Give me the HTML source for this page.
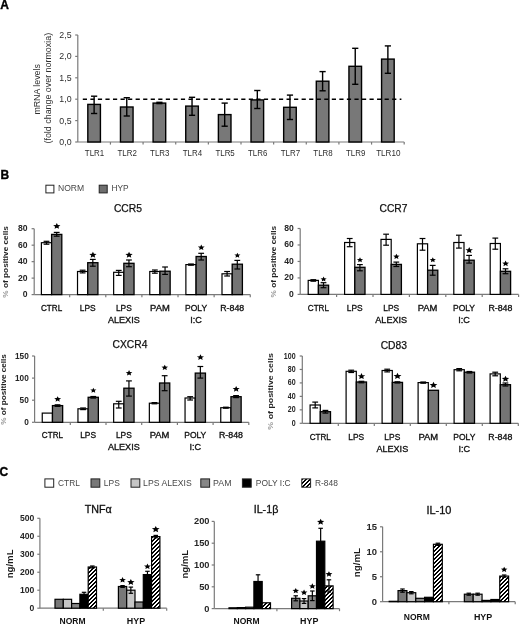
<!DOCTYPE html>
<html><head><meta charset="utf-8"><style>
html,body{margin:0;padding:0;background:#fff;}
body{width:520px;height:625px;overflow:hidden;}
svg{display:block;will-change:transform;filter:blur(0.3px);font-family:"Liberation Sans", sans-serif;}
</style></head><body>
<svg width="520" height="625" viewBox="0 0 520 625">
<defs><pattern id="hatch" patternUnits="userSpaceOnUse" x="0" y="0" width="4" height="4"><rect width="4" height="4" fill="#fff"/><rect x="0" y="0" width="1" height="1" fill="#000"/><rect x="1" y="0" width="1" height="1" fill="#000"/><rect x="0" y="1" width="1" height="1" fill="#000"/><rect x="3" y="1" width="1" height="1" fill="#000"/><rect x="2" y="2" width="1" height="1" fill="#000"/><rect x="3" y="2" width="1" height="1" fill="#000"/><rect x="1" y="3" width="1" height="1" fill="#000"/><rect x="2" y="3" width="1" height="1" fill="#000"/></pattern></defs>
<rect width="520" height="625" fill="#fff"/>
<text x="0.30" y="8.60" font-size="12" text-anchor="start" font-weight="bold" fill="#000" stroke="#000" stroke-width="0.35">A</text>
<line x1="77.80" y1="35.00" x2="77.80" y2="142.00" stroke="#7a7a7a" stroke-width="1.2" />
<line x1="75.20" y1="142.00" x2="77.80" y2="142.00" stroke="#7a7a7a" stroke-width="1.2" />
<text x="71.60" y="145.00" font-size="8.8" text-anchor="end" font-weight="normal" fill="#2e2e2e" >0,0</text>
<line x1="75.20" y1="120.60" x2="77.80" y2="120.60" stroke="#7a7a7a" stroke-width="1.2" />
<text x="71.60" y="123.60" font-size="8.8" text-anchor="end" font-weight="normal" fill="#2e2e2e" >0,5</text>
<line x1="75.20" y1="99.20" x2="77.80" y2="99.20" stroke="#7a7a7a" stroke-width="1.2" />
<text x="71.60" y="102.20" font-size="8.8" text-anchor="end" font-weight="normal" fill="#2e2e2e" >1,0</text>
<line x1="75.20" y1="77.80" x2="77.80" y2="77.80" stroke="#7a7a7a" stroke-width="1.2" />
<text x="71.60" y="80.80" font-size="8.8" text-anchor="end" font-weight="normal" fill="#2e2e2e" >1,5</text>
<line x1="75.20" y1="56.40" x2="77.80" y2="56.40" stroke="#7a7a7a" stroke-width="1.2" />
<text x="71.60" y="59.40" font-size="8.8" text-anchor="end" font-weight="normal" fill="#2e2e2e" >2,0</text>
<line x1="75.20" y1="35.00" x2="77.80" y2="35.00" stroke="#7a7a7a" stroke-width="1.2" />
<text x="71.60" y="38.00" font-size="8.8" text-anchor="end" font-weight="normal" fill="#2e2e2e" >2,5</text>
<line x1="77.80" y1="142.00" x2="404.20" y2="142.00" stroke="#7a7a7a" stroke-width="1.2" />
<line x1="110.44" y1="142.00" x2="110.44" y2="144.60" stroke="#7a7a7a" stroke-width="1.2" />
<line x1="143.08" y1="142.00" x2="143.08" y2="144.60" stroke="#7a7a7a" stroke-width="1.2" />
<line x1="175.72" y1="142.00" x2="175.72" y2="144.60" stroke="#7a7a7a" stroke-width="1.2" />
<line x1="208.36" y1="142.00" x2="208.36" y2="144.60" stroke="#7a7a7a" stroke-width="1.2" />
<line x1="241.00" y1="142.00" x2="241.00" y2="144.60" stroke="#7a7a7a" stroke-width="1.2" />
<line x1="273.64" y1="142.00" x2="273.64" y2="144.60" stroke="#7a7a7a" stroke-width="1.2" />
<line x1="306.28" y1="142.00" x2="306.28" y2="144.60" stroke="#7a7a7a" stroke-width="1.2" />
<line x1="338.92" y1="142.00" x2="338.92" y2="144.60" stroke="#7a7a7a" stroke-width="1.2" />
<line x1="371.56" y1="142.00" x2="371.56" y2="144.60" stroke="#7a7a7a" stroke-width="1.2" />
<line x1="404.20" y1="142.00" x2="404.20" y2="144.60" stroke="#7a7a7a" stroke-width="1.2" />
<rect x="87.82" y="104.40" width="12.60" height="37.60" fill="#787878" stroke="#000" stroke-width="1.4"/>
<line x1="94.12" y1="96.20" x2="94.12" y2="113.50" stroke="#000" stroke-width="1.4" />
<line x1="91.02" y1="96.20" x2="97.22" y2="96.20" stroke="#000" stroke-width="1.4" />
<line x1="91.02" y1="113.50" x2="97.22" y2="113.50" stroke="#000" stroke-width="1.4" />
<text x="94.52" y="156.40" font-size="9.1" text-anchor="middle" font-weight="normal" fill="#2e2e2e"  textLength="19.40" lengthAdjust="spacingAndGlyphs">TLR1</text>
<rect x="120.46" y="107.00" width="12.60" height="35.00" fill="#787878" stroke="#000" stroke-width="1.4"/>
<line x1="126.76" y1="97.70" x2="126.76" y2="116.00" stroke="#000" stroke-width="1.4" />
<line x1="123.66" y1="97.70" x2="129.86" y2="97.70" stroke="#000" stroke-width="1.4" />
<line x1="123.66" y1="116.00" x2="129.86" y2="116.00" stroke="#000" stroke-width="1.4" />
<text x="127.16" y="156.40" font-size="9.1" text-anchor="middle" font-weight="normal" fill="#2e2e2e"  textLength="19.40" lengthAdjust="spacingAndGlyphs">TLR2</text>
<rect x="153.10" y="103.10" width="12.60" height="38.90" fill="#787878" stroke="#000" stroke-width="1.4"/>
<line x1="159.40" y1="102.30" x2="159.40" y2="103.60" stroke="#000" stroke-width="1.4" />
<line x1="156.30" y1="102.30" x2="162.50" y2="102.30" stroke="#000" stroke-width="1.4" />
<line x1="156.30" y1="103.60" x2="162.50" y2="103.60" stroke="#000" stroke-width="1.4" />
<text x="159.80" y="156.40" font-size="9.1" text-anchor="middle" font-weight="normal" fill="#2e2e2e"  textLength="19.40" lengthAdjust="spacingAndGlyphs">TLR3</text>
<rect x="185.74" y="106.10" width="12.60" height="35.90" fill="#787878" stroke="#000" stroke-width="1.4"/>
<line x1="192.04" y1="97.30" x2="192.04" y2="115.30" stroke="#000" stroke-width="1.4" />
<line x1="188.94" y1="97.30" x2="195.14" y2="97.30" stroke="#000" stroke-width="1.4" />
<line x1="188.94" y1="115.30" x2="195.14" y2="115.30" stroke="#000" stroke-width="1.4" />
<text x="192.44" y="156.40" font-size="9.1" text-anchor="middle" font-weight="normal" fill="#2e2e2e"  textLength="19.40" lengthAdjust="spacingAndGlyphs">TLR4</text>
<rect x="218.38" y="114.60" width="12.60" height="27.40" fill="#787878" stroke="#000" stroke-width="1.4"/>
<line x1="224.68" y1="103.10" x2="224.68" y2="126.20" stroke="#000" stroke-width="1.4" />
<line x1="221.58" y1="103.10" x2="227.78" y2="103.10" stroke="#000" stroke-width="1.4" />
<line x1="221.58" y1="126.20" x2="227.78" y2="126.20" stroke="#000" stroke-width="1.4" />
<text x="225.08" y="156.40" font-size="9.1" text-anchor="middle" font-weight="normal" fill="#2e2e2e"  textLength="19.40" lengthAdjust="spacingAndGlyphs">TLR5</text>
<rect x="251.02" y="99.90" width="12.60" height="42.10" fill="#787878" stroke="#000" stroke-width="1.4"/>
<line x1="257.32" y1="90.50" x2="257.32" y2="108.50" stroke="#000" stroke-width="1.4" />
<line x1="254.22" y1="90.50" x2="260.42" y2="90.50" stroke="#000" stroke-width="1.4" />
<line x1="254.22" y1="108.50" x2="260.42" y2="108.50" stroke="#000" stroke-width="1.4" />
<text x="257.72" y="156.40" font-size="9.1" text-anchor="middle" font-weight="normal" fill="#2e2e2e"  textLength="19.40" lengthAdjust="spacingAndGlyphs">TLR6</text>
<rect x="283.66" y="107.30" width="12.60" height="34.70" fill="#787878" stroke="#000" stroke-width="1.4"/>
<line x1="289.96" y1="95.10" x2="289.96" y2="119.50" stroke="#000" stroke-width="1.4" />
<line x1="286.86" y1="95.10" x2="293.06" y2="95.10" stroke="#000" stroke-width="1.4" />
<line x1="286.86" y1="119.50" x2="293.06" y2="119.50" stroke="#000" stroke-width="1.4" />
<text x="290.36" y="156.40" font-size="9.1" text-anchor="middle" font-weight="normal" fill="#2e2e2e"  textLength="19.40" lengthAdjust="spacingAndGlyphs">TLR7</text>
<rect x="316.30" y="81.20" width="12.60" height="60.80" fill="#787878" stroke="#000" stroke-width="1.4"/>
<line x1="322.60" y1="71.60" x2="322.60" y2="90.80" stroke="#000" stroke-width="1.4" />
<line x1="319.50" y1="71.60" x2="325.70" y2="71.60" stroke="#000" stroke-width="1.4" />
<line x1="319.50" y1="90.80" x2="325.70" y2="90.80" stroke="#000" stroke-width="1.4" />
<text x="323.00" y="156.40" font-size="9.1" text-anchor="middle" font-weight="normal" fill="#2e2e2e"  textLength="19.40" lengthAdjust="spacingAndGlyphs">TLR8</text>
<rect x="348.94" y="66.30" width="12.60" height="75.70" fill="#787878" stroke="#000" stroke-width="1.4"/>
<line x1="355.24" y1="48.30" x2="355.24" y2="84.30" stroke="#000" stroke-width="1.4" />
<line x1="352.14" y1="48.30" x2="358.34" y2="48.30" stroke="#000" stroke-width="1.4" />
<line x1="352.14" y1="84.30" x2="358.34" y2="84.30" stroke="#000" stroke-width="1.4" />
<text x="355.64" y="156.40" font-size="9.1" text-anchor="middle" font-weight="normal" fill="#2e2e2e"  textLength="19.40" lengthAdjust="spacingAndGlyphs">TLR9</text>
<rect x="381.58" y="59.10" width="12.60" height="82.90" fill="#787878" stroke="#000" stroke-width="1.4"/>
<line x1="387.88" y1="45.90" x2="387.88" y2="73.30" stroke="#000" stroke-width="1.4" />
<line x1="384.78" y1="45.90" x2="390.98" y2="45.90" stroke="#000" stroke-width="1.4" />
<line x1="384.78" y1="73.30" x2="390.98" y2="73.30" stroke="#000" stroke-width="1.4" />
<text x="388.28" y="156.40" font-size="9.1" text-anchor="middle" font-weight="normal" fill="#2e2e2e"  textLength="24.30" lengthAdjust="spacingAndGlyphs">TLR10</text>
<line x1="82.80" y1="99.30" x2="401.40" y2="99.30" stroke="#000" stroke-width="1.5" stroke-dasharray="4.2 3.345"/>
<text x="0.00" y="0.00" font-size="8.8" text-anchor="middle" font-weight="normal" fill="#2e2e2e" transform="translate(40.2,89.4) rotate(-90)" textLength="50.40" lengthAdjust="spacingAndGlyphs">mRNA levels</text>
<text x="0.00" y="0.00" font-size="8.8" text-anchor="middle" font-weight="normal" fill="#2e2e2e" transform="translate(50.6,88.2) rotate(-90)" textLength="110.60" lengthAdjust="spacingAndGlyphs">(fold change over normoxia)</text>
<text x="0.50" y="178.60" font-size="12" text-anchor="start" font-weight="bold" fill="#000" stroke="#000" stroke-width="0.35">B</text>
<rect x="45.90" y="185.20" width="8.00" height="7.70" fill="#fff" stroke="#222" stroke-width="1"/>
<text x="58.00" y="191.20" font-size="8.4" text-anchor="start" font-weight="normal" fill="#474747"  textLength="26.20" lengthAdjust="spacingAndGlyphs">NORM</text>
<rect x="99.20" y="185.20" width="8.00" height="7.70" fill="#6e6e6e" stroke="#222" stroke-width="1"/>
<text x="111.50" y="191.20" font-size="8.4" text-anchor="start" font-weight="normal" fill="#474747"  textLength="17.20" lengthAdjust="spacingAndGlyphs">HYP</text>
<text x="127.90" y="211.60" font-size="10.3" text-anchor="middle" font-weight="normal" fill="#111" stroke="#111" stroke-width="0.25">CCR5</text>
<line x1="34.20" y1="228.70" x2="34.20" y2="294.60" stroke="#7a7a7a" stroke-width="1.2" />
<line x1="31.60" y1="294.60" x2="34.20" y2="294.60" stroke="#7a7a7a" stroke-width="1.2" />
<text x="27.60" y="297.10" font-size="8.6" text-anchor="end" font-weight="bold" fill="#262626"  textLength="4.78" lengthAdjust="spacingAndGlyphs">0</text>
<line x1="31.60" y1="278.12" x2="34.20" y2="278.12" stroke="#7a7a7a" stroke-width="1.2" />
<text x="27.60" y="280.62" font-size="8.6" text-anchor="end" font-weight="bold" fill="#262626"  textLength="9.56" lengthAdjust="spacingAndGlyphs">20</text>
<line x1="31.60" y1="261.65" x2="34.20" y2="261.65" stroke="#7a7a7a" stroke-width="1.2" />
<text x="27.60" y="264.15" font-size="8.6" text-anchor="end" font-weight="bold" fill="#262626"  textLength="9.56" lengthAdjust="spacingAndGlyphs">40</text>
<line x1="31.60" y1="245.18" x2="34.20" y2="245.18" stroke="#7a7a7a" stroke-width="1.2" />
<text x="27.60" y="247.68" font-size="8.6" text-anchor="end" font-weight="bold" fill="#262626"  textLength="9.56" lengthAdjust="spacingAndGlyphs">60</text>
<line x1="31.60" y1="228.70" x2="34.20" y2="228.70" stroke="#7a7a7a" stroke-width="1.2" />
<text x="27.60" y="231.20" font-size="8.6" text-anchor="end" font-weight="bold" fill="#262626"  textLength="9.56" lengthAdjust="spacingAndGlyphs">80</text>
<line x1="34.20" y1="294.60" x2="250.26" y2="294.60" stroke="#7a7a7a" stroke-width="1.2" />
<line x1="69.66" y1="294.60" x2="69.66" y2="297.20" stroke="#7a7a7a" stroke-width="1.2" />
<line x1="105.78" y1="294.60" x2="105.78" y2="297.20" stroke="#7a7a7a" stroke-width="1.2" />
<line x1="141.90" y1="294.60" x2="141.90" y2="297.20" stroke="#7a7a7a" stroke-width="1.2" />
<line x1="178.02" y1="294.60" x2="178.02" y2="297.20" stroke="#7a7a7a" stroke-width="1.2" />
<line x1="214.14" y1="294.60" x2="214.14" y2="297.20" stroke="#7a7a7a" stroke-width="1.2" />
<line x1="250.26" y1="294.60" x2="250.26" y2="297.20" stroke="#7a7a7a" stroke-width="1.2" />
<rect x="41.40" y="242.70" width="10.20" height="51.90" fill="#fff" stroke="#000" stroke-width="1.2"/>
<rect x="51.60" y="234.40" width="10.20" height="60.20" fill="#747474" stroke="#000" stroke-width="1.3"/>
<line x1="46.50" y1="241.30" x2="46.50" y2="244.20" stroke="#000" stroke-width="1.2" />
<line x1="43.60" y1="241.30" x2="49.40" y2="241.30" stroke="#000" stroke-width="1.2" />
<line x1="43.60" y1="244.20" x2="49.40" y2="244.20" stroke="#000" stroke-width="1.2" />
<line x1="56.70" y1="232.40" x2="56.70" y2="236.20" stroke="#000" stroke-width="1.2" />
<line x1="53.80" y1="232.40" x2="59.60" y2="232.40" stroke="#000" stroke-width="1.2" />
<line x1="53.80" y1="236.20" x2="59.60" y2="236.20" stroke="#000" stroke-width="1.2" />
<polygon points="56.80,223.00 57.83,225.03 60.43,225.23 58.47,226.69 59.04,228.85 56.80,227.72 54.56,228.85 55.13,226.69 53.17,225.23 55.77,225.03" fill="#000"/>
<text x="51.60" y="310.90" font-size="8.8" text-anchor="middle" font-weight="normal" fill="#111" stroke="#111" stroke-width="0.32" textLength="21.20" lengthAdjust="spacingAndGlyphs">CTRL</text>
<rect x="77.52" y="271.50" width="10.20" height="23.10" fill="#fff" stroke="#000" stroke-width="1.2"/>
<rect x="87.72" y="262.70" width="10.20" height="31.90" fill="#747474" stroke="#000" stroke-width="1.3"/>
<line x1="82.62" y1="270.20" x2="82.62" y2="272.90" stroke="#000" stroke-width="1.2" />
<line x1="79.72" y1="270.20" x2="85.52" y2="270.20" stroke="#000" stroke-width="1.2" />
<line x1="79.72" y1="272.90" x2="85.52" y2="272.90" stroke="#000" stroke-width="1.2" />
<line x1="92.82" y1="259.40" x2="92.82" y2="266.20" stroke="#000" stroke-width="1.2" />
<line x1="89.92" y1="259.40" x2="95.72" y2="259.40" stroke="#000" stroke-width="1.2" />
<line x1="89.92" y1="266.20" x2="95.72" y2="266.20" stroke="#000" stroke-width="1.2" />
<polygon points="92.92,251.80 93.95,253.83 96.55,254.03 94.59,255.49 95.16,257.65 92.92,256.52 90.68,257.65 91.25,255.49 89.29,254.03 91.89,253.83" fill="#000"/>
<text x="87.72" y="310.90" font-size="8.8" text-anchor="middle" font-weight="normal" fill="#111" stroke="#111" stroke-width="0.32" textLength="15.90" lengthAdjust="spacingAndGlyphs">LPS</text>
<rect x="113.64" y="272.30" width="10.20" height="22.30" fill="#fff" stroke="#000" stroke-width="1.2"/>
<rect x="123.84" y="263.30" width="10.20" height="31.30" fill="#747474" stroke="#000" stroke-width="1.3"/>
<line x1="118.74" y1="270.40" x2="118.74" y2="275.40" stroke="#000" stroke-width="1.2" />
<line x1="115.84" y1="270.40" x2="121.64" y2="270.40" stroke="#000" stroke-width="1.2" />
<line x1="115.84" y1="275.40" x2="121.64" y2="275.40" stroke="#000" stroke-width="1.2" />
<line x1="128.94" y1="260.00" x2="128.94" y2="266.70" stroke="#000" stroke-width="1.2" />
<line x1="126.04" y1="260.00" x2="131.84" y2="260.00" stroke="#000" stroke-width="1.2" />
<line x1="126.04" y1="266.70" x2="131.84" y2="266.70" stroke="#000" stroke-width="1.2" />
<polygon points="129.04,251.80 130.07,253.83 132.67,254.03 130.71,255.49 131.28,257.65 129.04,256.52 126.80,257.65 127.37,255.49 125.41,254.03 128.01,253.83" fill="#000"/>
<text x="123.84" y="310.90" font-size="8.8" text-anchor="middle" font-weight="normal" fill="#111" stroke="#111" stroke-width="0.32" textLength="15.90" lengthAdjust="spacingAndGlyphs">LPS</text>
<text x="123.84" y="322.90" font-size="8.8" text-anchor="middle" font-weight="normal" fill="#111" stroke="#111" stroke-width="0.32" textLength="31.80" lengthAdjust="spacingAndGlyphs">ALEXIS</text>
<rect x="149.76" y="271.50" width="10.20" height="23.10" fill="#fff" stroke="#000" stroke-width="1.2"/>
<rect x="159.96" y="271.20" width="10.20" height="23.40" fill="#747474" stroke="#000" stroke-width="1.3"/>
<line x1="154.86" y1="270.00" x2="154.86" y2="273.20" stroke="#000" stroke-width="1.2" />
<line x1="151.96" y1="270.00" x2="157.76" y2="270.00" stroke="#000" stroke-width="1.2" />
<line x1="151.96" y1="273.20" x2="157.76" y2="273.20" stroke="#000" stroke-width="1.2" />
<line x1="165.06" y1="267.00" x2="165.06" y2="274.40" stroke="#000" stroke-width="1.2" />
<line x1="162.16" y1="267.00" x2="167.96" y2="267.00" stroke="#000" stroke-width="1.2" />
<line x1="162.16" y1="274.40" x2="167.96" y2="274.40" stroke="#000" stroke-width="1.2" />
<text x="159.96" y="310.90" font-size="8.8" text-anchor="middle" font-weight="normal" fill="#111" stroke="#111" stroke-width="0.32" textLength="19.70" lengthAdjust="spacingAndGlyphs">PAM</text>
<rect x="185.88" y="264.60" width="10.20" height="30.00" fill="#fff" stroke="#000" stroke-width="1.2"/>
<rect x="196.08" y="256.50" width="10.20" height="38.10" fill="#747474" stroke="#000" stroke-width="1.3"/>
<line x1="190.98" y1="264.00" x2="190.98" y2="265.20" stroke="#000" stroke-width="1.2" />
<line x1="188.08" y1="264.00" x2="193.88" y2="264.00" stroke="#000" stroke-width="1.2" />
<line x1="188.08" y1="265.20" x2="193.88" y2="265.20" stroke="#000" stroke-width="1.2" />
<line x1="201.18" y1="253.30" x2="201.18" y2="260.00" stroke="#000" stroke-width="1.2" />
<line x1="198.28" y1="253.30" x2="204.08" y2="253.30" stroke="#000" stroke-width="1.2" />
<line x1="198.28" y1="260.00" x2="204.08" y2="260.00" stroke="#000" stroke-width="1.2" />
<polygon points="201.28,244.49 202.24,246.39 204.67,246.58 202.84,247.94 203.37,249.95 201.28,248.90 199.19,249.95 199.72,247.94 197.89,246.58 200.32,246.39" fill="#000"/>
<text x="196.08" y="310.90" font-size="8.8" text-anchor="middle" font-weight="normal" fill="#111" stroke="#111" stroke-width="0.32" textLength="22.00" lengthAdjust="spacingAndGlyphs">POLY</text>
<text x="196.08" y="322.90" font-size="8.8" text-anchor="middle" font-weight="normal" fill="#111" stroke="#111" stroke-width="0.32" textLength="11.60" lengthAdjust="spacingAndGlyphs">I:C</text>
<rect x="222.00" y="273.80" width="10.20" height="20.80" fill="#fff" stroke="#000" stroke-width="1.2"/>
<rect x="232.20" y="264.20" width="10.20" height="30.40" fill="#747474" stroke="#000" stroke-width="1.3"/>
<line x1="227.10" y1="271.50" x2="227.10" y2="276.00" stroke="#000" stroke-width="1.2" />
<line x1="224.20" y1="271.50" x2="230.00" y2="271.50" stroke="#000" stroke-width="1.2" />
<line x1="224.20" y1="276.00" x2="230.00" y2="276.00" stroke="#000" stroke-width="1.2" />
<line x1="237.30" y1="260.40" x2="237.30" y2="269.00" stroke="#000" stroke-width="1.2" />
<line x1="234.40" y1="260.40" x2="240.20" y2="260.40" stroke="#000" stroke-width="1.2" />
<line x1="234.40" y1="269.00" x2="240.20" y2="269.00" stroke="#000" stroke-width="1.2" />
<polygon points="237.40,252.71 238.27,254.42 240.46,254.60 238.81,255.83 239.29,257.65 237.40,256.70 235.51,257.65 235.99,255.83 234.34,254.60 236.53,254.42" fill="#000"/>
<text x="232.20" y="310.90" font-size="8.8" text-anchor="middle" font-weight="normal" fill="#111" stroke="#111" stroke-width="0.32" textLength="24.00" lengthAdjust="spacingAndGlyphs">R-848</text>
<text font-size="7.6" font-weight="bold" fill="#222" text-anchor="middle" transform="translate(8.20,261.90) rotate(-90)" textLength="71.5" lengthAdjust="spacingAndGlyphs"><tspan fill="#9a9a9a">%</tspan> of positive cells</text>
<text x="393.50" y="211.60" font-size="10.3" text-anchor="middle" font-weight="normal" fill="#111" stroke="#111" stroke-width="0.25">CCR7</text>
<line x1="300.20" y1="228.50" x2="300.20" y2="294.40" stroke="#7a7a7a" stroke-width="1.2" />
<line x1="297.60" y1="294.40" x2="300.20" y2="294.40" stroke="#7a7a7a" stroke-width="1.2" />
<text x="293.70" y="296.90" font-size="8.6" text-anchor="end" font-weight="bold" fill="#262626"  textLength="4.78" lengthAdjust="spacingAndGlyphs">0</text>
<line x1="297.60" y1="277.92" x2="300.20" y2="277.92" stroke="#7a7a7a" stroke-width="1.2" />
<text x="293.70" y="280.42" font-size="8.6" text-anchor="end" font-weight="bold" fill="#262626"  textLength="9.56" lengthAdjust="spacingAndGlyphs">20</text>
<line x1="297.60" y1="261.45" x2="300.20" y2="261.45" stroke="#7a7a7a" stroke-width="1.2" />
<text x="293.70" y="263.95" font-size="8.6" text-anchor="end" font-weight="bold" fill="#262626"  textLength="9.56" lengthAdjust="spacingAndGlyphs">40</text>
<line x1="297.60" y1="244.97" x2="300.20" y2="244.97" stroke="#7a7a7a" stroke-width="1.2" />
<text x="293.70" y="247.47" font-size="8.6" text-anchor="end" font-weight="bold" fill="#262626"  textLength="9.56" lengthAdjust="spacingAndGlyphs">60</text>
<line x1="297.60" y1="228.50" x2="300.20" y2="228.50" stroke="#7a7a7a" stroke-width="1.2" />
<text x="293.70" y="231.00" font-size="8.6" text-anchor="end" font-weight="bold" fill="#262626"  textLength="9.56" lengthAdjust="spacingAndGlyphs">80</text>
<line x1="300.20" y1="294.40" x2="518.60" y2="294.40" stroke="#7a7a7a" stroke-width="1.2" />
<line x1="336.60" y1="294.40" x2="336.60" y2="297.00" stroke="#7a7a7a" stroke-width="1.2" />
<line x1="373.00" y1="294.40" x2="373.00" y2="297.00" stroke="#7a7a7a" stroke-width="1.2" />
<line x1="409.40" y1="294.40" x2="409.40" y2="297.00" stroke="#7a7a7a" stroke-width="1.2" />
<line x1="445.80" y1="294.40" x2="445.80" y2="297.00" stroke="#7a7a7a" stroke-width="1.2" />
<line x1="482.20" y1="294.40" x2="482.20" y2="297.00" stroke="#7a7a7a" stroke-width="1.2" />
<line x1="518.60" y1="294.40" x2="518.60" y2="297.00" stroke="#7a7a7a" stroke-width="1.2" />
<rect x="308.20" y="280.40" width="10.20" height="14.00" fill="#fff" stroke="#000" stroke-width="1.2"/>
<rect x="318.40" y="285.20" width="10.20" height="9.20" fill="#747474" stroke="#000" stroke-width="1.3"/>
<line x1="313.30" y1="279.70" x2="313.30" y2="281.20" stroke="#000" stroke-width="1.2" />
<line x1="310.40" y1="279.70" x2="316.20" y2="279.70" stroke="#000" stroke-width="1.2" />
<line x1="310.40" y1="281.20" x2="316.20" y2="281.20" stroke="#000" stroke-width="1.2" />
<line x1="323.50" y1="282.70" x2="323.50" y2="287.70" stroke="#000" stroke-width="1.2" />
<line x1="320.60" y1="282.70" x2="326.40" y2="282.70" stroke="#000" stroke-width="1.2" />
<line x1="320.60" y1="287.70" x2="326.40" y2="287.70" stroke="#000" stroke-width="1.2" />
<polygon points="323.60,276.51 324.47,278.22 326.66,278.40 325.01,279.63 325.49,281.45 323.60,280.50 321.71,281.45 322.19,279.63 320.54,278.40 322.73,278.22" fill="#000"/>
<text x="318.40" y="310.90" font-size="8.8" text-anchor="middle" font-weight="normal" fill="#111" stroke="#111" stroke-width="0.32" textLength="21.20" lengthAdjust="spacingAndGlyphs">CTRL</text>
<rect x="344.60" y="242.50" width="10.20" height="51.90" fill="#fff" stroke="#000" stroke-width="1.2"/>
<rect x="354.80" y="267.30" width="10.20" height="27.10" fill="#747474" stroke="#000" stroke-width="1.3"/>
<line x1="349.70" y1="238.50" x2="349.70" y2="246.70" stroke="#000" stroke-width="1.2" />
<line x1="346.80" y1="238.50" x2="352.60" y2="238.50" stroke="#000" stroke-width="1.2" />
<line x1="346.80" y1="246.70" x2="352.60" y2="246.70" stroke="#000" stroke-width="1.2" />
<line x1="359.90" y1="264.60" x2="359.90" y2="270.80" stroke="#000" stroke-width="1.2" />
<line x1="357.00" y1="264.60" x2="362.80" y2="264.60" stroke="#000" stroke-width="1.2" />
<line x1="357.00" y1="270.80" x2="362.80" y2="270.80" stroke="#000" stroke-width="1.2" />
<polygon points="360.00,257.31 360.87,259.02 363.06,259.20 361.41,260.43 361.89,262.25 360.00,261.30 358.11,262.25 358.59,260.43 356.94,259.20 359.13,259.02" fill="#000"/>
<text x="354.80" y="310.90" font-size="8.8" text-anchor="middle" font-weight="normal" fill="#111" stroke="#111" stroke-width="0.32" textLength="15.90" lengthAdjust="spacingAndGlyphs">LPS</text>
<rect x="381.00" y="239.40" width="10.20" height="55.00" fill="#fff" stroke="#000" stroke-width="1.2"/>
<rect x="391.20" y="264.40" width="10.20" height="30.00" fill="#747474" stroke="#000" stroke-width="1.3"/>
<line x1="386.10" y1="234.20" x2="386.10" y2="245.20" stroke="#000" stroke-width="1.2" />
<line x1="383.20" y1="234.20" x2="389.00" y2="234.20" stroke="#000" stroke-width="1.2" />
<line x1="383.20" y1="245.20" x2="389.00" y2="245.20" stroke="#000" stroke-width="1.2" />
<line x1="396.30" y1="262.10" x2="396.30" y2="266.50" stroke="#000" stroke-width="1.2" />
<line x1="393.40" y1="262.10" x2="399.20" y2="262.10" stroke="#000" stroke-width="1.2" />
<line x1="393.40" y1="266.50" x2="399.20" y2="266.50" stroke="#000" stroke-width="1.2" />
<polygon points="396.40,253.75 397.32,255.55 399.63,255.74 397.88,257.03 398.39,258.95 396.40,257.95 394.41,258.95 394.92,257.03 393.17,255.74 395.48,255.55" fill="#000"/>
<text x="391.20" y="310.90" font-size="8.8" text-anchor="middle" font-weight="normal" fill="#111" stroke="#111" stroke-width="0.32" textLength="15.90" lengthAdjust="spacingAndGlyphs">LPS</text>
<text x="391.20" y="322.90" font-size="8.8" text-anchor="middle" font-weight="normal" fill="#111" stroke="#111" stroke-width="0.32" textLength="31.80" lengthAdjust="spacingAndGlyphs">ALEXIS</text>
<rect x="417.40" y="243.80" width="10.20" height="50.60" fill="#fff" stroke="#000" stroke-width="1.2"/>
<rect x="427.60" y="270.20" width="10.20" height="24.20" fill="#747474" stroke="#000" stroke-width="1.3"/>
<line x1="422.50" y1="238.50" x2="422.50" y2="250.20" stroke="#000" stroke-width="1.2" />
<line x1="419.60" y1="238.50" x2="425.40" y2="238.50" stroke="#000" stroke-width="1.2" />
<line x1="419.60" y1="250.20" x2="425.40" y2="250.20" stroke="#000" stroke-width="1.2" />
<line x1="432.70" y1="265.40" x2="432.70" y2="275.20" stroke="#000" stroke-width="1.2" />
<line x1="429.80" y1="265.40" x2="435.60" y2="265.40" stroke="#000" stroke-width="1.2" />
<line x1="429.80" y1="275.20" x2="435.60" y2="275.20" stroke="#000" stroke-width="1.2" />
<polygon points="432.80,257.31 433.67,259.02 435.86,259.20 434.21,260.43 434.69,262.25 432.80,261.30 430.91,262.25 431.39,260.43 429.74,259.20 431.93,259.02" fill="#000"/>
<text x="427.60" y="310.90" font-size="8.8" text-anchor="middle" font-weight="normal" fill="#111" stroke="#111" stroke-width="0.32" textLength="19.70" lengthAdjust="spacingAndGlyphs">PAM</text>
<rect x="453.80" y="242.50" width="10.20" height="51.90" fill="#fff" stroke="#000" stroke-width="1.2"/>
<rect x="464.00" y="260.20" width="10.20" height="34.20" fill="#747474" stroke="#000" stroke-width="1.3"/>
<line x1="458.90" y1="235.20" x2="458.90" y2="248.10" stroke="#000" stroke-width="1.2" />
<line x1="456.00" y1="235.20" x2="461.80" y2="235.20" stroke="#000" stroke-width="1.2" />
<line x1="456.00" y1="248.10" x2="461.80" y2="248.10" stroke="#000" stroke-width="1.2" />
<line x1="469.10" y1="255.40" x2="469.10" y2="263.10" stroke="#000" stroke-width="1.2" />
<line x1="466.20" y1="255.40" x2="472.00" y2="255.40" stroke="#000" stroke-width="1.2" />
<line x1="466.20" y1="263.10" x2="472.00" y2="263.10" stroke="#000" stroke-width="1.2" />
<polygon points="469.20,247.07 470.25,249.15 472.91,249.35 470.91,250.85 471.49,253.05 469.20,251.90 466.91,253.05 467.49,250.85 465.49,249.35 468.15,249.15" fill="#000"/>
<text x="464.00" y="310.90" font-size="8.8" text-anchor="middle" font-weight="normal" fill="#111" stroke="#111" stroke-width="0.32" textLength="22.00" lengthAdjust="spacingAndGlyphs">POLY</text>
<text x="464.00" y="322.90" font-size="8.8" text-anchor="middle" font-weight="normal" fill="#111" stroke="#111" stroke-width="0.32" textLength="11.60" lengthAdjust="spacingAndGlyphs">I:C</text>
<rect x="490.20" y="243.50" width="10.20" height="50.90" fill="#fff" stroke="#000" stroke-width="1.2"/>
<rect x="500.40" y="271.30" width="10.20" height="23.10" fill="#747474" stroke="#000" stroke-width="1.3"/>
<line x1="495.30" y1="238.10" x2="495.30" y2="249.20" stroke="#000" stroke-width="1.2" />
<line x1="492.40" y1="238.10" x2="498.20" y2="238.10" stroke="#000" stroke-width="1.2" />
<line x1="492.40" y1="249.20" x2="498.20" y2="249.20" stroke="#000" stroke-width="1.2" />
<line x1="505.50" y1="268.80" x2="505.50" y2="273.70" stroke="#000" stroke-width="1.2" />
<line x1="502.60" y1="268.80" x2="508.40" y2="268.80" stroke="#000" stroke-width="1.2" />
<line x1="502.60" y1="273.70" x2="508.40" y2="273.70" stroke="#000" stroke-width="1.2" />
<polygon points="505.60,260.56 506.59,262.50 509.07,262.70 507.20,264.09 507.74,266.15 505.60,265.07 503.46,266.15 504.00,264.09 502.13,262.70 504.61,262.50" fill="#000"/>
<text x="500.40" y="310.90" font-size="8.8" text-anchor="middle" font-weight="normal" fill="#111" stroke="#111" stroke-width="0.32" textLength="24.00" lengthAdjust="spacingAndGlyphs">R-848</text>
<text font-size="7.6" font-weight="bold" fill="#222" text-anchor="middle" transform="translate(275.60,261.70) rotate(-90)" textLength="71.5" lengthAdjust="spacingAndGlyphs"><tspan fill="#9a9a9a">%</tspan> of positive cells</text>
<text x="130.00" y="348.10" font-size="10.3" text-anchor="middle" font-weight="normal" fill="#111" stroke="#111" stroke-width="0.25">CXCR4</text>
<line x1="34.60" y1="356.00" x2="34.60" y2="422.30" stroke="#7a7a7a" stroke-width="1.2" />
<line x1="32.00" y1="422.30" x2="34.60" y2="422.30" stroke="#7a7a7a" stroke-width="1.2" />
<text x="28.80" y="424.80" font-size="8.6" text-anchor="end" font-weight="bold" fill="#262626"  textLength="4.59" lengthAdjust="spacingAndGlyphs">0</text>
<line x1="32.00" y1="400.20" x2="34.60" y2="400.20" stroke="#7a7a7a" stroke-width="1.2" />
<text x="28.80" y="402.70" font-size="8.6" text-anchor="end" font-weight="bold" fill="#262626"  textLength="9.18" lengthAdjust="spacingAndGlyphs">50</text>
<line x1="32.00" y1="378.10" x2="34.60" y2="378.10" stroke="#7a7a7a" stroke-width="1.2" />
<text x="28.80" y="380.60" font-size="8.6" text-anchor="end" font-weight="bold" fill="#262626"  textLength="13.77" lengthAdjust="spacingAndGlyphs">100</text>
<line x1="32.00" y1="356.00" x2="34.60" y2="356.00" stroke="#7a7a7a" stroke-width="1.2" />
<text x="28.80" y="358.50" font-size="8.6" text-anchor="end" font-weight="bold" fill="#262626"  textLength="13.77" lengthAdjust="spacingAndGlyphs">150</text>
<line x1="34.60" y1="422.30" x2="248.80" y2="422.30" stroke="#7a7a7a" stroke-width="1.2" />
<line x1="70.30" y1="422.30" x2="70.30" y2="424.90" stroke="#7a7a7a" stroke-width="1.2" />
<line x1="106.00" y1="422.30" x2="106.00" y2="424.90" stroke="#7a7a7a" stroke-width="1.2" />
<line x1="141.70" y1="422.30" x2="141.70" y2="424.90" stroke="#7a7a7a" stroke-width="1.2" />
<line x1="177.40" y1="422.30" x2="177.40" y2="424.90" stroke="#7a7a7a" stroke-width="1.2" />
<line x1="213.10" y1="422.30" x2="213.10" y2="424.90" stroke="#7a7a7a" stroke-width="1.2" />
<line x1="248.80" y1="422.30" x2="248.80" y2="424.90" stroke="#7a7a7a" stroke-width="1.2" />
<rect x="42.25" y="413.10" width="10.20" height="9.20" fill="#fff" stroke="#000" stroke-width="1.2"/>
<rect x="52.45" y="405.60" width="10.20" height="16.70" fill="#747474" stroke="#000" stroke-width="1.3"/>
<line x1="57.55" y1="404.80" x2="57.55" y2="406.40" stroke="#000" stroke-width="1.2" />
<line x1="54.65" y1="404.80" x2="60.45" y2="404.80" stroke="#000" stroke-width="1.2" />
<line x1="54.65" y1="406.40" x2="60.45" y2="406.40" stroke="#000" stroke-width="1.2" />
<polygon points="57.65,396.19 58.61,398.09 61.04,398.28 59.21,399.64 59.74,401.65 57.65,400.60 55.56,401.65 56.09,399.64 54.26,398.28 56.69,398.09" fill="#000"/>
<text x="52.45" y="438.10" font-size="8.8" text-anchor="middle" font-weight="normal" fill="#111" stroke="#111" stroke-width="0.32" textLength="21.20" lengthAdjust="spacingAndGlyphs">CTRL</text>
<rect x="77.95" y="408.80" width="10.20" height="13.50" fill="#fff" stroke="#000" stroke-width="1.2"/>
<rect x="88.15" y="397.30" width="10.20" height="25.00" fill="#747474" stroke="#000" stroke-width="1.3"/>
<line x1="83.05" y1="408.00" x2="83.05" y2="409.60" stroke="#000" stroke-width="1.2" />
<line x1="80.15" y1="408.00" x2="85.95" y2="408.00" stroke="#000" stroke-width="1.2" />
<line x1="80.15" y1="409.60" x2="85.95" y2="409.60" stroke="#000" stroke-width="1.2" />
<line x1="93.25" y1="396.50" x2="93.25" y2="398.10" stroke="#000" stroke-width="1.2" />
<line x1="90.35" y1="396.50" x2="96.15" y2="396.50" stroke="#000" stroke-width="1.2" />
<line x1="90.35" y1="398.10" x2="96.15" y2="398.10" stroke="#000" stroke-width="1.2" />
<polygon points="93.35,387.71 94.22,389.42 96.41,389.60 94.76,390.83 95.24,392.65 93.35,391.70 91.46,392.65 91.94,390.83 90.29,389.60 92.48,389.42" fill="#000"/>
<text x="88.15" y="438.10" font-size="8.8" text-anchor="middle" font-weight="normal" fill="#111" stroke="#111" stroke-width="0.32" textLength="15.90" lengthAdjust="spacingAndGlyphs">LPS</text>
<rect x="113.65" y="403.80" width="10.20" height="18.50" fill="#fff" stroke="#000" stroke-width="1.2"/>
<rect x="123.85" y="388.20" width="10.20" height="34.10" fill="#747474" stroke="#000" stroke-width="1.3"/>
<line x1="118.75" y1="401.30" x2="118.75" y2="408.00" stroke="#000" stroke-width="1.2" />
<line x1="115.85" y1="401.30" x2="121.65" y2="401.30" stroke="#000" stroke-width="1.2" />
<line x1="115.85" y1="408.00" x2="121.65" y2="408.00" stroke="#000" stroke-width="1.2" />
<line x1="128.95" y1="380.90" x2="128.95" y2="396.10" stroke="#000" stroke-width="1.2" />
<line x1="126.05" y1="380.90" x2="131.85" y2="380.90" stroke="#000" stroke-width="1.2" />
<line x1="126.05" y1="396.10" x2="131.85" y2="396.10" stroke="#000" stroke-width="1.2" />
<polygon points="129.05,370.12 129.99,371.97 132.36,372.16 130.57,373.49 131.09,375.45 129.05,374.42 127.01,375.45 127.53,373.49 125.74,372.16 128.11,371.97" fill="#000"/>
<text x="123.85" y="438.10" font-size="8.8" text-anchor="middle" font-weight="normal" fill="#111" stroke="#111" stroke-width="0.32" textLength="15.90" lengthAdjust="spacingAndGlyphs">LPS</text>
<text x="123.85" y="450.10" font-size="8.8" text-anchor="middle" font-weight="normal" fill="#111" stroke="#111" stroke-width="0.32" textLength="31.80" lengthAdjust="spacingAndGlyphs">ALEXIS</text>
<rect x="149.35" y="403.20" width="10.20" height="19.10" fill="#fff" stroke="#000" stroke-width="1.2"/>
<rect x="159.55" y="383.00" width="10.20" height="39.30" fill="#747474" stroke="#000" stroke-width="1.3"/>
<line x1="154.45" y1="402.60" x2="154.45" y2="403.80" stroke="#000" stroke-width="1.2" />
<line x1="151.55" y1="402.60" x2="157.35" y2="402.60" stroke="#000" stroke-width="1.2" />
<line x1="151.55" y1="403.80" x2="157.35" y2="403.80" stroke="#000" stroke-width="1.2" />
<line x1="164.65" y1="375.70" x2="164.65" y2="390.70" stroke="#000" stroke-width="1.2" />
<line x1="161.75" y1="375.70" x2="167.55" y2="375.70" stroke="#000" stroke-width="1.2" />
<line x1="161.75" y1="390.70" x2="167.55" y2="390.70" stroke="#000" stroke-width="1.2" />
<polygon points="164.75,364.72 165.69,366.57 168.06,366.76 166.27,368.09 166.79,370.05 164.75,369.02 162.71,370.05 163.23,368.09 161.44,366.76 163.81,366.57" fill="#000"/>
<text x="159.55" y="438.10" font-size="8.8" text-anchor="middle" font-weight="normal" fill="#111" stroke="#111" stroke-width="0.32" textLength="19.70" lengthAdjust="spacingAndGlyphs">PAM</text>
<rect x="185.05" y="398.00" width="10.20" height="24.30" fill="#fff" stroke="#000" stroke-width="1.2"/>
<rect x="195.25" y="373.10" width="10.20" height="49.20" fill="#747474" stroke="#000" stroke-width="1.3"/>
<line x1="190.15" y1="396.70" x2="190.15" y2="400.00" stroke="#000" stroke-width="1.2" />
<line x1="187.25" y1="396.70" x2="193.05" y2="396.70" stroke="#000" stroke-width="1.2" />
<line x1="187.25" y1="400.00" x2="193.05" y2="400.00" stroke="#000" stroke-width="1.2" />
<line x1="200.35" y1="366.50" x2="200.35" y2="378.10" stroke="#000" stroke-width="1.2" />
<line x1="197.45" y1="366.50" x2="203.25" y2="366.50" stroke="#000" stroke-width="1.2" />
<line x1="197.45" y1="378.10" x2="203.25" y2="378.10" stroke="#000" stroke-width="1.2" />
<polygon points="200.45,354.23 201.46,356.22 204.00,356.41 202.08,357.84 202.64,359.95 200.45,358.85 198.26,359.95 198.82,357.84 196.90,356.41 199.44,356.22" fill="#000"/>
<text x="195.25" y="438.10" font-size="8.8" text-anchor="middle" font-weight="normal" fill="#111" stroke="#111" stroke-width="0.32" textLength="22.00" lengthAdjust="spacingAndGlyphs">POLY</text>
<text x="195.25" y="450.10" font-size="8.8" text-anchor="middle" font-weight="normal" fill="#111" stroke="#111" stroke-width="0.32" textLength="11.60" lengthAdjust="spacingAndGlyphs">I:C</text>
<rect x="220.75" y="407.70" width="10.20" height="14.60" fill="#fff" stroke="#000" stroke-width="1.2"/>
<rect x="230.95" y="396.70" width="10.20" height="25.60" fill="#747474" stroke="#000" stroke-width="1.3"/>
<line x1="225.85" y1="407.20" x2="225.85" y2="408.20" stroke="#000" stroke-width="1.2" />
<line x1="222.95" y1="407.20" x2="228.75" y2="407.20" stroke="#000" stroke-width="1.2" />
<line x1="222.95" y1="408.20" x2="228.75" y2="408.20" stroke="#000" stroke-width="1.2" />
<line x1="236.05" y1="395.60" x2="236.05" y2="397.60" stroke="#000" stroke-width="1.2" />
<line x1="233.15" y1="395.60" x2="238.95" y2="395.60" stroke="#000" stroke-width="1.2" />
<line x1="233.15" y1="397.60" x2="238.95" y2="397.60" stroke="#000" stroke-width="1.2" />
<polygon points="236.15,385.93 237.16,387.92 239.70,388.11 237.78,389.54 238.34,391.65 236.15,390.55 233.96,391.65 234.52,389.54 232.60,388.11 235.14,387.92" fill="#000"/>
<text x="230.95" y="438.10" font-size="8.8" text-anchor="middle" font-weight="normal" fill="#111" stroke="#111" stroke-width="0.32" textLength="24.00" lengthAdjust="spacingAndGlyphs">R-848</text>
<text font-size="7.6" font-weight="bold" fill="#222" text-anchor="middle" transform="translate(6.20,389.40) rotate(-90)" textLength="70.5" lengthAdjust="spacingAndGlyphs"><tspan fill="#9a9a9a">%</tspan> of positive cells</text>
<text x="393.80" y="348.60" font-size="10.3" text-anchor="middle" font-weight="normal" fill="#111" stroke="#111" stroke-width="0.25">CD83</text>
<line x1="302.30" y1="356.00" x2="302.30" y2="423.30" stroke="#7a7a7a" stroke-width="1.2" />
<line x1="299.70" y1="423.30" x2="302.30" y2="423.30" stroke="#7a7a7a" stroke-width="1.2" />
<text x="295.60" y="425.80" font-size="8.6" text-anchor="end" font-weight="bold" fill="#262626"  textLength="3.92" lengthAdjust="spacingAndGlyphs">0</text>
<line x1="299.70" y1="409.84" x2="302.30" y2="409.84" stroke="#7a7a7a" stroke-width="1.2" />
<text x="295.60" y="412.34" font-size="8.6" text-anchor="end" font-weight="bold" fill="#262626"  textLength="7.84" lengthAdjust="spacingAndGlyphs">20</text>
<line x1="299.70" y1="396.38" x2="302.30" y2="396.38" stroke="#7a7a7a" stroke-width="1.2" />
<text x="295.60" y="398.88" font-size="8.6" text-anchor="end" font-weight="bold" fill="#262626"  textLength="7.84" lengthAdjust="spacingAndGlyphs">40</text>
<line x1="299.70" y1="382.92" x2="302.30" y2="382.92" stroke="#7a7a7a" stroke-width="1.2" />
<text x="295.60" y="385.42" font-size="8.6" text-anchor="end" font-weight="bold" fill="#262626"  textLength="7.84" lengthAdjust="spacingAndGlyphs">60</text>
<line x1="299.70" y1="369.46" x2="302.30" y2="369.46" stroke="#7a7a7a" stroke-width="1.2" />
<text x="295.60" y="371.96" font-size="8.6" text-anchor="end" font-weight="bold" fill="#262626"  textLength="7.84" lengthAdjust="spacingAndGlyphs">80</text>
<line x1="299.70" y1="356.00" x2="302.30" y2="356.00" stroke="#7a7a7a" stroke-width="1.2" />
<text x="295.60" y="358.50" font-size="8.6" text-anchor="end" font-weight="bold" fill="#262626"  textLength="11.76" lengthAdjust="spacingAndGlyphs">100</text>
<line x1="302.30" y1="423.30" x2="518.30" y2="423.30" stroke="#7a7a7a" stroke-width="1.2" />
<line x1="338.30" y1="423.30" x2="338.30" y2="425.90" stroke="#7a7a7a" stroke-width="1.2" />
<line x1="374.30" y1="423.30" x2="374.30" y2="425.90" stroke="#7a7a7a" stroke-width="1.2" />
<line x1="410.30" y1="423.30" x2="410.30" y2="425.90" stroke="#7a7a7a" stroke-width="1.2" />
<line x1="446.30" y1="423.30" x2="446.30" y2="425.90" stroke="#7a7a7a" stroke-width="1.2" />
<line x1="482.30" y1="423.30" x2="482.30" y2="425.90" stroke="#7a7a7a" stroke-width="1.2" />
<line x1="518.30" y1="423.30" x2="518.30" y2="425.90" stroke="#7a7a7a" stroke-width="1.2" />
<rect x="310.10" y="405.00" width="10.20" height="18.30" fill="#fff" stroke="#000" stroke-width="1.2"/>
<rect x="320.30" y="411.70" width="10.20" height="11.60" fill="#747474" stroke="#000" stroke-width="1.3"/>
<line x1="315.20" y1="402.10" x2="315.20" y2="407.90" stroke="#000" stroke-width="1.2" />
<line x1="312.30" y1="402.10" x2="318.10" y2="402.10" stroke="#000" stroke-width="1.2" />
<line x1="312.30" y1="407.90" x2="318.10" y2="407.90" stroke="#000" stroke-width="1.2" />
<line x1="325.40" y1="410.40" x2="325.40" y2="413.10" stroke="#000" stroke-width="1.2" />
<line x1="322.50" y1="410.40" x2="328.30" y2="410.40" stroke="#000" stroke-width="1.2" />
<line x1="322.50" y1="413.10" x2="328.30" y2="413.10" stroke="#000" stroke-width="1.2" />
<text x="320.30" y="439.60" font-size="8.8" text-anchor="middle" font-weight="normal" fill="#111" stroke="#111" stroke-width="0.32" textLength="21.20" lengthAdjust="spacingAndGlyphs">CTRL</text>
<rect x="346.10" y="371.30" width="10.20" height="52.00" fill="#fff" stroke="#000" stroke-width="1.2"/>
<rect x="356.30" y="382.00" width="10.20" height="41.30" fill="#747474" stroke="#000" stroke-width="1.3"/>
<line x1="351.20" y1="370.20" x2="351.20" y2="372.50" stroke="#000" stroke-width="1.2" />
<line x1="348.30" y1="370.20" x2="354.10" y2="370.20" stroke="#000" stroke-width="1.2" />
<line x1="348.30" y1="372.50" x2="354.10" y2="372.50" stroke="#000" stroke-width="1.2" />
<line x1="361.40" y1="381.30" x2="361.40" y2="382.80" stroke="#000" stroke-width="1.2" />
<line x1="358.50" y1="381.30" x2="364.30" y2="381.30" stroke="#000" stroke-width="1.2" />
<line x1="358.50" y1="382.80" x2="364.30" y2="382.80" stroke="#000" stroke-width="1.2" />
<polygon points="361.50,373.07 362.55,375.15 365.21,375.35 363.21,376.85 363.79,379.05 361.50,377.90 359.21,379.05 359.79,376.85 357.79,375.35 360.45,375.15" fill="#000"/>
<text x="356.30" y="439.60" font-size="8.8" text-anchor="middle" font-weight="normal" fill="#111" stroke="#111" stroke-width="0.32" textLength="15.90" lengthAdjust="spacingAndGlyphs">LPS</text>
<rect x="382.10" y="370.50" width="10.20" height="52.80" fill="#fff" stroke="#000" stroke-width="1.2"/>
<rect x="392.30" y="382.40" width="10.20" height="40.90" fill="#747474" stroke="#000" stroke-width="1.3"/>
<line x1="387.20" y1="369.20" x2="387.20" y2="371.90" stroke="#000" stroke-width="1.2" />
<line x1="384.30" y1="369.20" x2="390.10" y2="369.20" stroke="#000" stroke-width="1.2" />
<line x1="384.30" y1="371.90" x2="390.10" y2="371.90" stroke="#000" stroke-width="1.2" />
<line x1="397.40" y1="381.80" x2="397.40" y2="383.00" stroke="#000" stroke-width="1.2" />
<line x1="394.50" y1="381.80" x2="400.30" y2="381.80" stroke="#000" stroke-width="1.2" />
<line x1="394.50" y1="383.00" x2="400.30" y2="383.00" stroke="#000" stroke-width="1.2" />
<polygon points="397.50,372.68 398.62,374.89 401.45,375.11 399.32,376.70 399.94,379.05 397.50,377.82 395.06,379.05 395.68,376.70 393.55,375.11 396.38,374.89" fill="#000"/>
<text x="392.30" y="439.60" font-size="8.8" text-anchor="middle" font-weight="normal" fill="#111" stroke="#111" stroke-width="0.32" textLength="15.90" lengthAdjust="spacingAndGlyphs">LPS</text>
<text x="392.30" y="451.60" font-size="8.8" text-anchor="middle" font-weight="normal" fill="#111" stroke="#111" stroke-width="0.32" textLength="31.80" lengthAdjust="spacingAndGlyphs">ALEXIS</text>
<rect x="418.10" y="382.60" width="10.20" height="40.70" fill="#fff" stroke="#000" stroke-width="1.2"/>
<rect x="428.30" y="390.30" width="10.20" height="33.00" fill="#747474" stroke="#000" stroke-width="1.3"/>
<line x1="423.20" y1="382.00" x2="423.20" y2="383.20" stroke="#000" stroke-width="1.2" />
<line x1="420.30" y1="382.00" x2="426.10" y2="382.00" stroke="#000" stroke-width="1.2" />
<line x1="420.30" y1="383.20" x2="426.10" y2="383.20" stroke="#000" stroke-width="1.2" />
<polygon points="433.50,381.71 434.60,383.88 437.37,384.09 435.28,385.65 435.89,387.95 433.50,386.75 431.11,387.95 431.72,385.65 429.63,384.09 432.40,383.88" fill="#000"/>
<text x="428.30" y="439.60" font-size="8.8" text-anchor="middle" font-weight="normal" fill="#111" stroke="#111" stroke-width="0.32" textLength="19.70" lengthAdjust="spacingAndGlyphs">PAM</text>
<rect x="454.10" y="369.70" width="10.20" height="53.60" fill="#fff" stroke="#000" stroke-width="1.2"/>
<rect x="464.30" y="372.20" width="10.20" height="51.10" fill="#747474" stroke="#000" stroke-width="1.3"/>
<line x1="459.20" y1="368.60" x2="459.20" y2="370.80" stroke="#000" stroke-width="1.2" />
<line x1="456.30" y1="368.60" x2="462.10" y2="368.60" stroke="#000" stroke-width="1.2" />
<line x1="456.30" y1="370.80" x2="462.10" y2="370.80" stroke="#000" stroke-width="1.2" />
<line x1="469.40" y1="371.50" x2="469.40" y2="373.00" stroke="#000" stroke-width="1.2" />
<line x1="466.50" y1="371.50" x2="472.30" y2="371.50" stroke="#000" stroke-width="1.2" />
<line x1="466.50" y1="373.00" x2="472.30" y2="373.00" stroke="#000" stroke-width="1.2" />
<text x="464.30" y="439.60" font-size="8.8" text-anchor="middle" font-weight="normal" fill="#111" stroke="#111" stroke-width="0.32" textLength="22.00" lengthAdjust="spacingAndGlyphs">POLY</text>
<text x="464.30" y="451.60" font-size="8.8" text-anchor="middle" font-weight="normal" fill="#111" stroke="#111" stroke-width="0.32" textLength="11.60" lengthAdjust="spacingAndGlyphs">I:C</text>
<rect x="490.10" y="373.90" width="10.20" height="49.40" fill="#fff" stroke="#000" stroke-width="1.2"/>
<rect x="500.30" y="384.70" width="10.20" height="38.60" fill="#747474" stroke="#000" stroke-width="1.3"/>
<line x1="495.20" y1="372.20" x2="495.20" y2="375.80" stroke="#000" stroke-width="1.2" />
<line x1="492.30" y1="372.20" x2="498.10" y2="372.20" stroke="#000" stroke-width="1.2" />
<line x1="492.30" y1="375.80" x2="498.10" y2="375.80" stroke="#000" stroke-width="1.2" />
<line x1="505.40" y1="383.00" x2="505.40" y2="386.00" stroke="#000" stroke-width="1.2" />
<line x1="502.50" y1="383.00" x2="508.30" y2="383.00" stroke="#000" stroke-width="1.2" />
<line x1="502.50" y1="386.00" x2="508.30" y2="386.00" stroke="#000" stroke-width="1.2" />
<polygon points="505.50,375.77 506.55,377.85 509.21,378.05 507.21,379.55 507.79,381.75 505.50,380.60 503.21,381.75 503.79,379.55 501.79,378.05 504.45,377.85" fill="#000"/>
<text x="500.30" y="439.60" font-size="8.8" text-anchor="middle" font-weight="normal" fill="#111" stroke="#111" stroke-width="0.32" textLength="24.00" lengthAdjust="spacingAndGlyphs">R-848</text>
<text font-size="7.6" font-weight="bold" fill="#222" text-anchor="middle" transform="translate(273.30,391.40) rotate(-90)" textLength="76.5" lengthAdjust="spacingAndGlyphs"><tspan fill="#9a9a9a">%</tspan> of positive cells</text>
<text x="-0.50" y="475.70" font-size="12" text-anchor="start" font-weight="bold" fill="#000" stroke="#000" stroke-width="0.35">C</text>
<rect x="44.90" y="478.90" width="8.80" height="8.30" fill="#fff" stroke="#222" stroke-width="1"/>
<text x="58.00" y="485.90" font-size="8.4" text-anchor="start" font-weight="normal" fill="#474747"  textLength="21.80" lengthAdjust="spacingAndGlyphs">CTRL</text>
<rect x="91.00" y="478.90" width="8.80" height="8.30" fill="#787878" stroke="#222" stroke-width="1"/>
<text x="103.80" y="485.90" font-size="8.4" text-anchor="start" font-weight="normal" fill="#474747"  textLength="16.00" lengthAdjust="spacingAndGlyphs">LPS</text>
<rect x="131.00" y="478.90" width="8.80" height="8.30" fill="#c6c6c6" stroke="#222" stroke-width="1"/>
<text x="143.10" y="485.90" font-size="8.4" text-anchor="start" font-weight="normal" fill="#474747"  textLength="48.60" lengthAdjust="spacingAndGlyphs">LPS ALEXIS</text>
<rect x="200.80" y="478.90" width="8.80" height="8.30" fill="#868686" stroke="#222" stroke-width="1"/>
<text x="213.10" y="485.90" font-size="8.4" text-anchor="start" font-weight="normal" fill="#474747"  textLength="18.40" lengthAdjust="spacingAndGlyphs">PAM</text>
<rect x="242.40" y="478.90" width="8.80" height="8.30" fill="#000" stroke="#222" stroke-width="1"/>
<text x="255.80" y="485.90" font-size="8.4" text-anchor="start" font-weight="normal" fill="#474747"  textLength="34.80" lengthAdjust="spacingAndGlyphs">POLY I:C</text>
<rect x="301.80" y="478.90" width="8.80" height="8.30" fill="url(#hatch)" stroke="#222" stroke-width="1"/>
<text x="315.00" y="485.90" font-size="8.4" text-anchor="start" font-weight="normal" fill="#474747"  textLength="22.90" lengthAdjust="spacingAndGlyphs">R-848</text>
<text x="98.30" y="512.90" font-size="10.3" text-anchor="middle" font-weight="normal" fill="#111" stroke="#111" stroke-width="0.3" textLength="27.00" lengthAdjust="spacingAndGlyphs">TNFα</text>
<line x1="39.90" y1="518.30" x2="39.90" y2="608.20" stroke="#7a7a7a" stroke-width="1.2" />
<line x1="37.30" y1="608.20" x2="39.90" y2="608.20" stroke="#7a7a7a" stroke-width="1.2" />
<text x="34.30" y="611.20" font-size="8.6" text-anchor="end" font-weight="bold" fill="#262626"  textLength="4.78" lengthAdjust="spacingAndGlyphs">0</text>
<line x1="37.30" y1="590.22" x2="39.90" y2="590.22" stroke="#7a7a7a" stroke-width="1.2" />
<text x="34.30" y="593.22" font-size="8.6" text-anchor="end" font-weight="bold" fill="#262626"  textLength="14.34" lengthAdjust="spacingAndGlyphs">100</text>
<line x1="37.30" y1="572.24" x2="39.90" y2="572.24" stroke="#7a7a7a" stroke-width="1.2" />
<text x="34.30" y="575.24" font-size="8.6" text-anchor="end" font-weight="bold" fill="#262626"  textLength="14.34" lengthAdjust="spacingAndGlyphs">200</text>
<line x1="37.30" y1="554.26" x2="39.90" y2="554.26" stroke="#7a7a7a" stroke-width="1.2" />
<text x="34.30" y="557.26" font-size="8.6" text-anchor="end" font-weight="bold" fill="#262626"  textLength="14.34" lengthAdjust="spacingAndGlyphs">300</text>
<line x1="37.30" y1="536.28" x2="39.90" y2="536.28" stroke="#7a7a7a" stroke-width="1.2" />
<text x="34.30" y="539.28" font-size="8.6" text-anchor="end" font-weight="bold" fill="#262626"  textLength="14.34" lengthAdjust="spacingAndGlyphs">400</text>
<line x1="37.30" y1="518.30" x2="39.90" y2="518.30" stroke="#7a7a7a" stroke-width="1.2" />
<text x="34.30" y="521.30" font-size="8.6" text-anchor="end" font-weight="bold" fill="#262626"  textLength="14.34" lengthAdjust="spacingAndGlyphs">500</text>
<line x1="39.90" y1="608.20" x2="166.70" y2="608.20" stroke="#7a7a7a" stroke-width="1.2" />
<line x1="103.30" y1="608.20" x2="103.30" y2="610.80" stroke="#7a7a7a" stroke-width="1.2" />
<line x1="166.70" y1="608.20" x2="166.70" y2="610.80" stroke="#7a7a7a" stroke-width="1.2" />
<rect x="55.00" y="599.30" width="8.30" height="8.90" fill="#787878" stroke="#000" stroke-width="1.2"/>
<rect x="63.30" y="599.30" width="8.30" height="8.90" fill="#c6c6c6" stroke="#000" stroke-width="1.2"/>
<rect x="71.60" y="603.50" width="8.30" height="4.70" fill="#868686" stroke="#000" stroke-width="1.2"/>
<rect x="79.90" y="594.30" width="8.30" height="13.90" fill="#000" stroke="#000" stroke-width="1.2"/>
<line x1="84.05" y1="592.30" x2="84.05" y2="596.30" stroke="#000" stroke-width="1.2" />
<line x1="81.80" y1="592.30" x2="86.30" y2="592.30" stroke="#000" stroke-width="1.2" />
<line x1="81.80" y1="596.30" x2="86.30" y2="596.30" stroke="#000" stroke-width="1.2" />
<rect x="88.20" y="567.00" width="8.30" height="41.20" fill="url(#hatch)" stroke="#000" stroke-width="1.2"/>
<line x1="92.35" y1="566.00" x2="92.35" y2="568.00" stroke="#000" stroke-width="1.2" />
<line x1="90.10" y1="566.00" x2="94.60" y2="566.00" stroke="#000" stroke-width="1.2" />
<line x1="90.10" y1="568.00" x2="94.60" y2="568.00" stroke="#000" stroke-width="1.2" />
<text x="72.60" y="624.20" font-size="9.3" text-anchor="middle" font-weight="bold" fill="#111"  textLength="26.00" lengthAdjust="spacingAndGlyphs">NORM</text>
<rect x="118.40" y="586.50" width="8.30" height="21.70" fill="#787878" stroke="#000" stroke-width="1.2"/>
<line x1="122.55" y1="585.60" x2="122.55" y2="587.40" stroke="#000" stroke-width="1.2" />
<line x1="120.30" y1="585.60" x2="124.80" y2="585.60" stroke="#000" stroke-width="1.2" />
<line x1="120.30" y1="587.40" x2="124.80" y2="587.40" stroke="#000" stroke-width="1.2" />
<polygon points="122.55,577.12 123.49,578.97 125.86,579.16 124.07,580.49 124.59,582.45 122.55,581.42 120.51,582.45 121.03,580.49 119.24,579.16 121.61,578.97" fill="#000"/>
<rect x="126.70" y="590.20" width="8.30" height="18.00" fill="#c6c6c6" stroke="#000" stroke-width="1.2"/>
<line x1="130.85" y1="587.10" x2="130.85" y2="593.30" stroke="#000" stroke-width="1.2" />
<line x1="128.60" y1="587.10" x2="133.10" y2="587.10" stroke="#000" stroke-width="1.2" />
<line x1="128.60" y1="593.30" x2="133.10" y2="593.30" stroke="#000" stroke-width="1.2" />
<polygon points="130.85,578.97 131.90,581.05 134.56,581.25 132.56,582.75 133.14,584.95 130.85,583.80 128.56,584.95 129.14,582.75 127.14,581.25 129.80,581.05" fill="#000"/>
<rect x="135.00" y="602.00" width="8.30" height="6.20" fill="#868686" stroke="#000" stroke-width="1.2"/>
<rect x="143.30" y="574.60" width="8.30" height="33.60" fill="#000" stroke="#000" stroke-width="1.2"/>
<line x1="147.45" y1="571.30" x2="147.45" y2="577.90" stroke="#000" stroke-width="1.2" />
<line x1="145.20" y1="571.30" x2="149.70" y2="571.30" stroke="#000" stroke-width="1.2" />
<line x1="145.20" y1="577.90" x2="149.70" y2="577.90" stroke="#000" stroke-width="1.2" />
<polygon points="147.45,563.49 148.41,565.39 150.84,565.58 149.01,566.94 149.54,568.95 147.45,567.90 145.36,568.95 145.89,566.94 144.06,565.58 146.49,565.39" fill="#000"/>
<rect x="151.60" y="536.60" width="8.30" height="71.60" fill="url(#hatch)" stroke="#000" stroke-width="1.2"/>
<line x1="155.75" y1="535.40" x2="155.75" y2="537.80" stroke="#000" stroke-width="1.2" />
<line x1="153.50" y1="535.40" x2="158.00" y2="535.40" stroke="#000" stroke-width="1.2" />
<line x1="153.50" y1="537.80" x2="158.00" y2="537.80" stroke="#000" stroke-width="1.2" />
<polygon points="155.75,525.91 156.85,528.08 159.62,528.29 157.53,529.85 158.14,532.15 155.75,530.95 153.36,532.15 153.97,529.85 151.88,528.29 154.65,528.08" fill="#000"/>
<text x="136.00" y="624.20" font-size="9.3" text-anchor="middle" font-weight="bold" fill="#111"  textLength="18.30" lengthAdjust="spacingAndGlyphs">HYP</text>
<text font-size="9.7" font-weight="bold" fill="#1a1a1a" text-anchor="middle" transform="translate(13.20,563.90) rotate(-90)" textLength="28.8" lengthAdjust="spacingAndGlyphs">ng/mL</text>
<text x="266.00" y="513.00" font-size="10.3" text-anchor="middle" font-weight="normal" fill="#111" stroke="#111" stroke-width="0.3" textLength="24.60" lengthAdjust="spacingAndGlyphs">IL-1β</text>
<line x1="214.30" y1="521.40" x2="214.30" y2="608.60" stroke="#7a7a7a" stroke-width="1.2" />
<line x1="211.70" y1="608.60" x2="214.30" y2="608.60" stroke="#7a7a7a" stroke-width="1.2" />
<text x="209.50" y="611.60" font-size="8.6" text-anchor="end" font-weight="bold" fill="#262626"  textLength="5.16" lengthAdjust="spacingAndGlyphs">0</text>
<line x1="211.70" y1="586.80" x2="214.30" y2="586.80" stroke="#7a7a7a" stroke-width="1.2" />
<text x="209.50" y="589.80" font-size="8.6" text-anchor="end" font-weight="bold" fill="#262626"  textLength="10.33" lengthAdjust="spacingAndGlyphs">50</text>
<line x1="211.70" y1="565.00" x2="214.30" y2="565.00" stroke="#7a7a7a" stroke-width="1.2" />
<text x="209.50" y="568.00" font-size="8.6" text-anchor="end" font-weight="bold" fill="#262626"  textLength="15.49" lengthAdjust="spacingAndGlyphs">100</text>
<line x1="211.70" y1="543.20" x2="214.30" y2="543.20" stroke="#7a7a7a" stroke-width="1.2" />
<text x="209.50" y="546.20" font-size="8.6" text-anchor="end" font-weight="bold" fill="#262626"  textLength="15.49" lengthAdjust="spacingAndGlyphs">150</text>
<line x1="211.70" y1="521.40" x2="214.30" y2="521.40" stroke="#7a7a7a" stroke-width="1.2" />
<text x="209.50" y="524.40" font-size="8.6" text-anchor="end" font-weight="bold" fill="#262626"  textLength="15.49" lengthAdjust="spacingAndGlyphs">200</text>
<line x1="214.30" y1="608.60" x2="339.50" y2="608.60" stroke="#7a7a7a" stroke-width="1.2" />
<line x1="276.90" y1="608.60" x2="276.90" y2="611.20" stroke="#7a7a7a" stroke-width="1.2" />
<line x1="339.50" y1="608.60" x2="339.50" y2="611.20" stroke="#7a7a7a" stroke-width="1.2" />
<rect x="229.00" y="607.80" width="8.30" height="0.80" fill="#787878" stroke="#000" stroke-width="1.2"/>
<rect x="237.30" y="607.60" width="8.30" height="1.00" fill="#c6c6c6" stroke="#000" stroke-width="1.2"/>
<rect x="245.60" y="607.20" width="8.30" height="1.40" fill="#868686" stroke="#000" stroke-width="1.2"/>
<rect x="253.90" y="581.50" width="8.30" height="27.10" fill="#000" stroke="#000" stroke-width="1.2"/>
<line x1="258.05" y1="574.80" x2="258.05" y2="588.20" stroke="#000" stroke-width="1.2" />
<line x1="255.80" y1="574.80" x2="260.30" y2="574.80" stroke="#000" stroke-width="1.2" />
<line x1="255.80" y1="588.20" x2="260.30" y2="588.20" stroke="#000" stroke-width="1.2" />
<rect x="262.20" y="602.80" width="8.30" height="5.80" fill="url(#hatch)" stroke="#000" stroke-width="1.2"/>
<text x="246.60" y="624.20" font-size="9.3" text-anchor="middle" font-weight="bold" fill="#111"  textLength="26.00" lengthAdjust="spacingAndGlyphs">NORM</text>
<rect x="291.60" y="598.30" width="8.30" height="10.30" fill="#787878" stroke="#000" stroke-width="1.2"/>
<line x1="295.75" y1="595.80" x2="295.75" y2="600.80" stroke="#000" stroke-width="1.2" />
<line x1="293.50" y1="595.80" x2="298.00" y2="595.80" stroke="#000" stroke-width="1.2" />
<line x1="293.50" y1="600.80" x2="298.00" y2="600.80" stroke="#000" stroke-width="1.2" />
<polygon points="295.75,587.92 296.69,589.77 299.06,589.96 297.27,591.29 297.79,593.25 295.75,592.22 293.71,593.25 294.23,591.29 292.44,589.96 294.81,589.77" fill="#000"/>
<rect x="299.90" y="601.00" width="8.30" height="7.60" fill="#c6c6c6" stroke="#000" stroke-width="1.2"/>
<line x1="304.05" y1="598.60" x2="304.05" y2="603.40" stroke="#000" stroke-width="1.2" />
<line x1="301.80" y1="598.60" x2="306.30" y2="598.60" stroke="#000" stroke-width="1.2" />
<line x1="301.80" y1="603.40" x2="306.30" y2="603.40" stroke="#000" stroke-width="1.2" />
<polygon points="304.05,589.49 305.01,591.39 307.44,591.58 305.61,592.94 306.14,594.95 304.05,593.90 301.96,594.95 302.49,592.94 300.66,591.58 303.09,591.39" fill="#000"/>
<rect x="308.20" y="595.80" width="8.30" height="12.80" fill="#868686" stroke="#000" stroke-width="1.2"/>
<line x1="312.35" y1="591.00" x2="312.35" y2="600.60" stroke="#000" stroke-width="1.2" />
<line x1="310.10" y1="591.00" x2="314.60" y2="591.00" stroke="#000" stroke-width="1.2" />
<line x1="310.10" y1="600.60" x2="314.60" y2="600.60" stroke="#000" stroke-width="1.2" />
<polygon points="312.35,583.29 313.31,585.19 315.74,585.38 313.91,586.74 314.44,588.75 312.35,587.70 310.26,588.75 310.79,586.74 308.96,585.38 311.39,585.19" fill="#000"/>
<rect x="316.50" y="541.20" width="8.30" height="67.40" fill="#000" stroke="#000" stroke-width="1.2"/>
<line x1="320.65" y1="528.30" x2="320.65" y2="554.10" stroke="#000" stroke-width="1.2" />
<line x1="318.40" y1="528.30" x2="322.90" y2="528.30" stroke="#000" stroke-width="1.2" />
<line x1="318.40" y1="554.10" x2="322.90" y2="554.10" stroke="#000" stroke-width="1.2" />
<polygon points="320.65,518.80 321.68,520.83 324.28,521.03 322.32,522.49 322.89,524.65 320.65,523.52 318.41,524.65 318.98,522.49 317.02,521.03 319.62,520.83" fill="#000"/>
<rect x="324.80" y="585.90" width="8.30" height="22.70" fill="url(#hatch)" stroke="#000" stroke-width="1.2"/>
<line x1="328.95" y1="579.80" x2="328.95" y2="592.00" stroke="#000" stroke-width="1.2" />
<line x1="326.70" y1="579.80" x2="331.20" y2="579.80" stroke="#000" stroke-width="1.2" />
<line x1="326.70" y1="592.00" x2="331.20" y2="592.00" stroke="#000" stroke-width="1.2" />
<polygon points="328.95,571.19 329.91,573.09 332.34,573.28 330.51,574.64 331.04,576.65 328.95,575.60 326.86,576.65 327.39,574.64 325.56,573.28 327.99,573.09" fill="#000"/>
<text x="309.20" y="624.20" font-size="9.3" text-anchor="middle" font-weight="bold" fill="#111"  textLength="18.30" lengthAdjust="spacingAndGlyphs">HYP</text>
<text font-size="9.7" font-weight="bold" fill="#1a1a1a" text-anchor="middle" transform="translate(188.40,564.20) rotate(-90)" textLength="28.8" lengthAdjust="spacingAndGlyphs">ng/mL</text>
<text x="438.90" y="514.10" font-size="10.3" text-anchor="middle" font-weight="normal" fill="#111" stroke="#111" stroke-width="0.3" textLength="25.00" lengthAdjust="spacingAndGlyphs">IL-10</text>
<line x1="382.60" y1="526.80" x2="382.60" y2="601.70" stroke="#7a7a7a" stroke-width="1.2" />
<line x1="380.00" y1="601.70" x2="382.60" y2="601.70" stroke="#7a7a7a" stroke-width="1.2" />
<text x="377.00" y="604.70" font-size="8.6" text-anchor="end" font-weight="bold" fill="#262626"  textLength="5.26" lengthAdjust="spacingAndGlyphs">0</text>
<line x1="380.00" y1="576.73" x2="382.60" y2="576.73" stroke="#7a7a7a" stroke-width="1.2" />
<text x="377.00" y="579.73" font-size="8.6" text-anchor="end" font-weight="bold" fill="#262626"  textLength="5.26" lengthAdjust="spacingAndGlyphs">5</text>
<line x1="380.00" y1="551.77" x2="382.60" y2="551.77" stroke="#7a7a7a" stroke-width="1.2" />
<text x="377.00" y="554.77" font-size="8.6" text-anchor="end" font-weight="bold" fill="#262626"  textLength="10.52" lengthAdjust="spacingAndGlyphs">10</text>
<line x1="380.00" y1="526.80" x2="382.60" y2="526.80" stroke="#7a7a7a" stroke-width="1.2" />
<text x="377.00" y="529.80" font-size="8.6" text-anchor="end" font-weight="bold" fill="#262626"  textLength="10.52" lengthAdjust="spacingAndGlyphs">15</text>
<line x1="382.60" y1="601.70" x2="515.20" y2="601.70" stroke="#7a7a7a" stroke-width="1.2" />
<line x1="448.90" y1="601.70" x2="448.90" y2="604.30" stroke="#7a7a7a" stroke-width="1.2" />
<line x1="515.20" y1="601.70" x2="515.20" y2="604.30" stroke="#7a7a7a" stroke-width="1.2" />
<rect x="389.20" y="601.30" width="8.85" height="0.40" fill="#fff" stroke="#000" stroke-width="1.2"/>
<rect x="398.05" y="590.60" width="8.85" height="11.10" fill="#787878" stroke="#000" stroke-width="1.2"/>
<line x1="402.48" y1="589.00" x2="402.48" y2="592.20" stroke="#000" stroke-width="1.2" />
<line x1="400.23" y1="589.00" x2="404.73" y2="589.00" stroke="#000" stroke-width="1.2" />
<line x1="400.23" y1="592.20" x2="404.73" y2="592.20" stroke="#000" stroke-width="1.2" />
<rect x="406.90" y="592.70" width="8.85" height="9.00" fill="#c6c6c6" stroke="#000" stroke-width="1.2"/>
<line x1="411.33" y1="591.60" x2="411.33" y2="593.80" stroke="#000" stroke-width="1.2" />
<line x1="409.08" y1="591.60" x2="413.58" y2="591.60" stroke="#000" stroke-width="1.2" />
<line x1="409.08" y1="593.80" x2="413.58" y2="593.80" stroke="#000" stroke-width="1.2" />
<rect x="415.75" y="598.30" width="8.85" height="3.40" fill="#868686" stroke="#000" stroke-width="1.2"/>
<rect x="424.60" y="597.30" width="8.85" height="4.40" fill="#000" stroke="#000" stroke-width="1.2"/>
<rect x="433.45" y="544.30" width="8.85" height="57.40" fill="url(#hatch)" stroke="#000" stroke-width="1.2"/>
<line x1="437.88" y1="543.20" x2="437.88" y2="545.40" stroke="#000" stroke-width="1.2" />
<line x1="435.63" y1="543.20" x2="440.13" y2="543.20" stroke="#000" stroke-width="1.2" />
<line x1="435.63" y1="545.40" x2="440.13" y2="545.40" stroke="#000" stroke-width="1.2" />
<text x="416.75" y="619.60" font-size="9.3" text-anchor="middle" font-weight="bold" fill="#111"  textLength="26.00" lengthAdjust="spacingAndGlyphs">NORM</text>
<rect x="464.35" y="594.20" width="8.85" height="7.50" fill="#787878" stroke="#000" stroke-width="1.2"/>
<line x1="468.78" y1="593.20" x2="468.78" y2="595.20" stroke="#000" stroke-width="1.2" />
<line x1="466.53" y1="593.20" x2="471.03" y2="593.20" stroke="#000" stroke-width="1.2" />
<line x1="466.53" y1="595.20" x2="471.03" y2="595.20" stroke="#000" stroke-width="1.2" />
<rect x="473.20" y="594.20" width="8.85" height="7.50" fill="#c6c6c6" stroke="#000" stroke-width="1.2"/>
<line x1="477.63" y1="593.20" x2="477.63" y2="595.20" stroke="#000" stroke-width="1.2" />
<line x1="475.38" y1="593.20" x2="479.88" y2="593.20" stroke="#000" stroke-width="1.2" />
<line x1="475.38" y1="595.20" x2="479.88" y2="595.20" stroke="#000" stroke-width="1.2" />
<rect x="482.05" y="600.40" width="8.85" height="1.30" fill="#868686" stroke="#000" stroke-width="1.2"/>
<rect x="490.90" y="599.50" width="8.85" height="2.20" fill="#000" stroke="#000" stroke-width="1.2"/>
<rect x="499.75" y="576.10" width="8.85" height="25.60" fill="url(#hatch)" stroke="#000" stroke-width="1.2"/>
<line x1="504.18" y1="575.00" x2="504.18" y2="577.20" stroke="#000" stroke-width="1.2" />
<line x1="501.93" y1="575.00" x2="506.43" y2="575.00" stroke="#000" stroke-width="1.2" />
<line x1="501.93" y1="577.20" x2="506.43" y2="577.20" stroke="#000" stroke-width="1.2" />
<polygon points="504.18,566.72 505.12,568.57 507.48,568.76 505.70,570.09 506.22,572.05 504.18,571.02 502.13,572.05 502.65,570.09 500.87,568.76 503.23,568.57" fill="#000"/>
<text x="483.05" y="619.60" font-size="9.3" text-anchor="middle" font-weight="bold" fill="#111"  textLength="18.30" lengthAdjust="spacingAndGlyphs">HYP</text>
<text font-size="9.7" font-weight="bold" fill="#1a1a1a" text-anchor="middle" transform="translate(360.00,562.60) rotate(-90)" textLength="29.2" lengthAdjust="spacingAndGlyphs">ng/mL</text>
</svg></body></html>
